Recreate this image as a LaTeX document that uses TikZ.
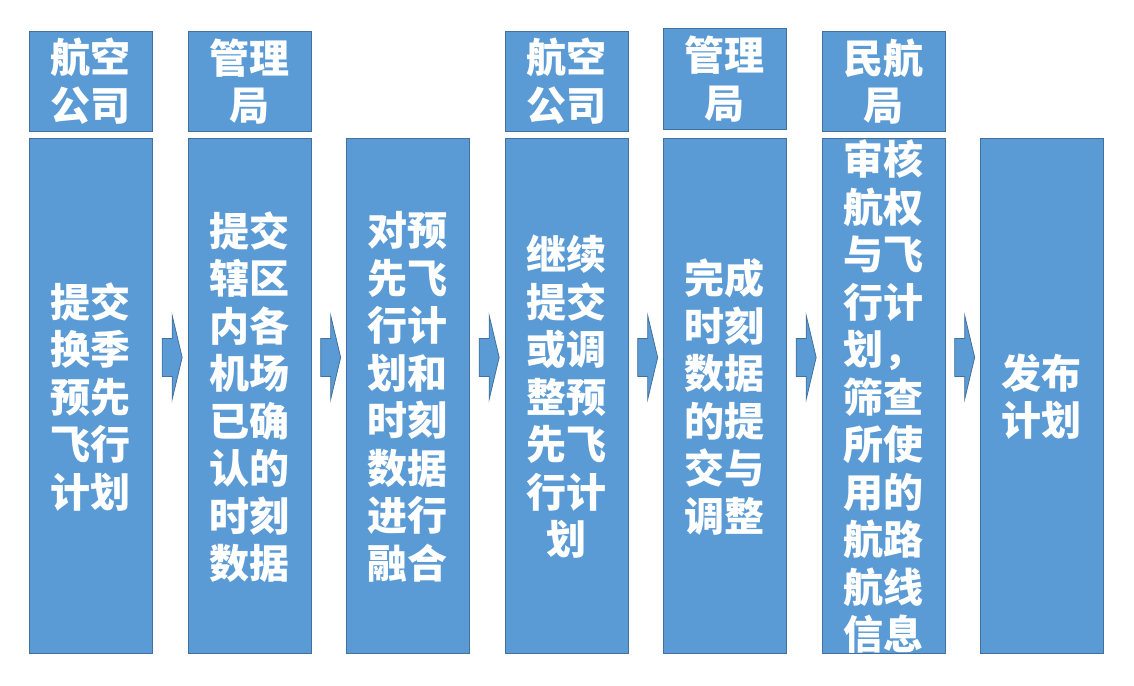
\documentclass[tikz,border=0pt]{standalone}
\usepackage{fontspec}
\newfontfamily\cjk{Noto Sans CJK SC}
\usepackage{xcolor}
\usetikzlibrary{positioning,calc}
\definecolor{boxblue}{HTML}{5B9BD5}
\definecolor{boxline}{HTML}{41719C}

\begin{document}
\begin{tikzpicture}[x=1pt,y=-1pt,
    colbox/.style={draw=boxline,fill=boxblue,line width=0.8pt,
      minimum width=123pt,inner sep=0pt,anchor=north west},
    headbox/.style={colbox,minimum height=100pt},
    stepbox/.style={colbox,minimum height=515pt},
    caption/.style={text=white,align=center,inner sep=0pt,
      font=\cjk\bfseries\fontsize{40}{47.5}\selectfont},
    flowarrow/.style={draw=boxline,fill=boxblue,line width=0.8pt}]

    \useasboundingbox (0,0) rectangle (1134,685);

    % Who does it (headers)
    \node[headbox] (h1) at (29,31) {};
    \node[headbox] (h2) at (187.5,31) {};
    \node[headbox] (h4) at (504.5,31) {};
    \node[headbox] (h5) at (663,28.5) {};
    \node[headbox] (h6) at (821.5,31) {};

    \node[caption] (ht1) at (h1) {航空\\公司};
    \node[caption] (ht2) at (h2) {管理\\局};
    \node[caption] (ht4) at (h4) {航空\\公司};
    \node[caption] (ht5) at (h5) {管理\\局};
    \node[caption] (ht6) at (h6) {民航\\局};

    % Steps
    \node[stepbox] (s1) at (29,138) {};
    \node[stepbox] (s2) at (187.5,138) {};
    \node[stepbox] (s3) at (346,138) {};
    \node[stepbox] (s4) at (504.5,138) {};
    \node[stepbox] (s5) at (663,138) {};
    \node[stepbox] (s6) at (821.5,138) {};
    \node[stepbox] (s7) at (980,138) {};

    \node[caption] (st1) at ($(s1)+(0,1)$) {提交\\换季\\预先\\飞行\\计划};
    \node[caption] (st2) at ($(s2)+(0,1)$) {提交\\辖区\\内各\\机场\\已确\\认的\\时刻\\数据};
    \node[caption] (st3) at ($(s3)+(0,1)$) {对预\\先飞\\行计\\划和\\时刻\\数据\\进行\\融合};
    \node[caption] (st4) at ($(s4)+(0,1)$) {继续\\提交\\或调\\整预\\先飞\\行计\\划};
    \node[caption] (st5) at ($(s5)+(0,1)$) {完成\\时刻\\数据\\的提\\交与\\调整};
    \node[caption] (st6) at ($(s6)+(0,1)$) {审核\\航权\\与飞\\行计\\划，\\筛查\\所使\\用的\\航路\\航线\\信息};
    \node[caption] (st7) at ($(s7)+(0,1)$) {发布\\计划};

    % Block arrows between the steps
    \foreach \a/\b in {s1/s2,s2/s3,s3/s4,s4/s5,s5/s6,s6/s7}{
      \coordinate (m) at ($(\a.east)!0.5!(\b.west)+(0,-38.5)$);
      \draw[flowarrow,shift={(m)}] (-8,-19) -- (2,-19) -- (2,-42) -- (12,0)
        -- (2,42) -- (2,19) -- (-8,19) -- cycle;
    }
\end{tikzpicture}
\end{document}
